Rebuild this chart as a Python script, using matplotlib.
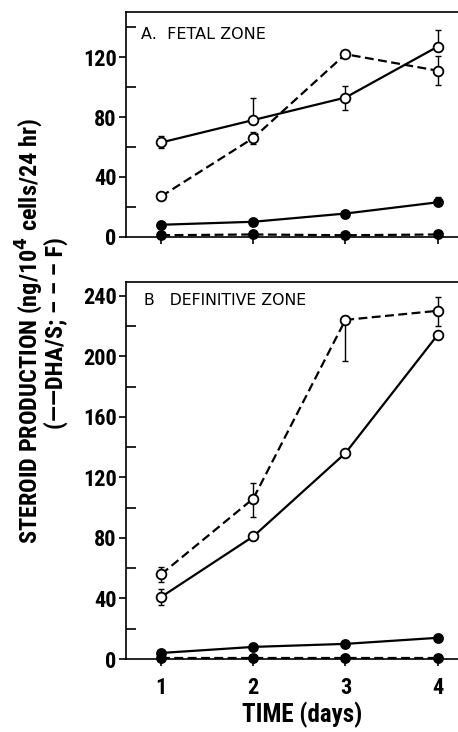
import matplotlib
matplotlib.use("Agg")
import matplotlib.pyplot as plt
from matplotlib.ticker import MultipleLocator
from matplotlib import font_manager

days = [1, 2, 3, 4]

# Panel A: fetal zone
a_dha_open = [63, 78, 93, 127]
a_dha_open_lo = [4, 0, 8, 0]
a_dha_open_hi = [4, 15, 8, 11]
a_f_open = [27, 66, 122, 111]
a_f_open_lo = [0, 4, 0, 9.5]
a_f_open_hi = [0, 4, 0, 9.5]
a_dha_fill = [8, 10, 15.5, 23]
a_dha_fill_err = [0, 0, 0, 3.5]
a_f_fill = [1, 1.5, 1, 1.5]

# Panel B: definitive zone
b_dha_open = [41, 81, 136, 214]
b_dha_open_err = [5, 0, 0, 0]
b_f_open = [56, 106, 224, 230]
b_f_open_lo = [5, 12, 27, 10]
b_f_open_hi = [5, 10, 0, 9]
b_dha_fill = [4, 8, 10, 14]
b_f_fill = [0.5, 0.5, 0.5, 0.5]

# pick a condensed face if one is installed
fonts = font_manager.fontManager.ttflist
found = "none"
for f in fonts:
    if f.name in ("Liberation Sans Narrow", "Roboto Condensed", "Open Sans Condensed"):
        found = f.name
        break
    if f.name == "DejaVu Sans" and f.stretch == "condensed":
        found = "DejaVu Sans condensed"
if found == "DejaVu Sans condensed":
    plt.rcParams["font.family"] = ["DejaVu Sans"]
    plt.rcParams["font.stretch"] = "condensed"
elif found != "none":
    plt.rcParams["font.family"] = [found, "DejaVu Sans"]
else:
    plt.rcParams["font.family"] = ["Roboto", "DejaVu Sans"]

fig = plt.figure(figsize=(4.58, 7.32), dpi=100)
ax_a = fig.add_axes([0.276, 0.6766, 0.73, 0.3066])
ax_b = fig.add_axes([0.276, 0.0997, 0.73, 0.515])

LW = 1.6
DASH = (0, (4, 2))


def series(ax, y, lo, hi, ls, filled):
    idx = [i for i in range(len(y)) if lo[i] or hi[i]]
    if idx:
        ax.errorbar([days[i] for i in idx], [y[i] for i in idx],
                    yerr=[[lo[i] for i in idx], [hi[i] for i in idx]],
                    fmt="none", ecolor="black", elinewidth=1, capsize=2.5,
                    capthick=1, clip_on=False, zorder=2)
    ax.plot(days, y, color="black", lw=LW, linestyle=ls, marker="o",
            markersize=7 if not filled else 6.5,
            markerfacecolor="black" if filled else "white",
            markeredgecolor="black", markeredgewidth=1.3,
            clip_on=False, zorder=3)


zeros = [0, 0, 0, 0]
series(ax_a, a_dha_open, a_dha_open_lo, a_dha_open_hi, "-", False)
series(ax_a, a_f_open, a_f_open_lo, a_f_open_hi, DASH, False)
series(ax_a, a_dha_fill, zeros, a_dha_fill_err, "-", True)
series(ax_a, a_f_fill, zeros, zeros, DASH, True)

series(ax_b, b_f_open, b_f_open_lo, b_f_open_hi, DASH, False)
series(ax_b, b_dha_open, b_dha_open_err, b_dha_open_err, "-", False)
series(ax_b, b_dha_fill, zeros, zeros, "-", True)
series(ax_b, b_f_fill, zeros, zeros, DASH, True)

ax_a.set_ylim(0, 150)
ax_b.set_ylim(0, 249)
for ax in (ax_a, ax_b):
    ax.set_xlim(0.622, 4.252)
    ax.set_xticks(days)
    ax.yaxis.set_major_locator(MultipleLocator(40))
    ax.yaxis.set_minor_locator(MultipleLocator(20))
    ax.tick_params(axis="y", which="major", direction="out", length=5, width=1.2,
                   labelsize=16, pad=2)
    ax.tick_params(axis="y", which="minor", direction="in", length=7, width=1.2)
    ax.tick_params(axis="x", direction="out", length=5, width=1.2, labelsize=16, pad=8)
    ax.spines["right"].set_visible(False)
    for s in ("left", "bottom", "top"):
        ax.spines[s].set_linewidth(1.2)
    for lab in ax.get_yticklabels() + ax.get_xticklabels():
        lab.set_fontweight("bold")

ax_a.tick_params(axis="x", labelbottom=False)

ax_a.text(0.045, 0.9, "A.  FETAL ZONE", transform=ax_a.transAxes, fontsize=11.5,
          family="DejaVu Sans", stretch="normal", va="center", ha="left")
ax_b.text(0.052, 0.95, "B   DEFINITIVE ZONE", transform=ax_b.transAxes, fontsize=11.3,
          family="DejaVu Sans", stretch="normal", va="center", ha="left")

fig.text(0.064, 0.547, "STEROID PRODUCTION (ng/10$^{\\mathbf{4}}$ cells/24 hr)",
         rotation=90, ha="center", va="center", fontsize=17.5, fontweight="bold")
fig.text(0.122, 0.545, "(\u2014\u2014DHA/S; \u2013 \u2013 \u2013 F)",
         rotation=90, ha="center", va="center", fontsize=17.5, fontweight="bold")
fig.text(0.66, 0.024, "TIME (days)", ha="center", va="center",
         fontsize=18, fontweight="bold")

fig.savefig("out.png", dpi=100)
